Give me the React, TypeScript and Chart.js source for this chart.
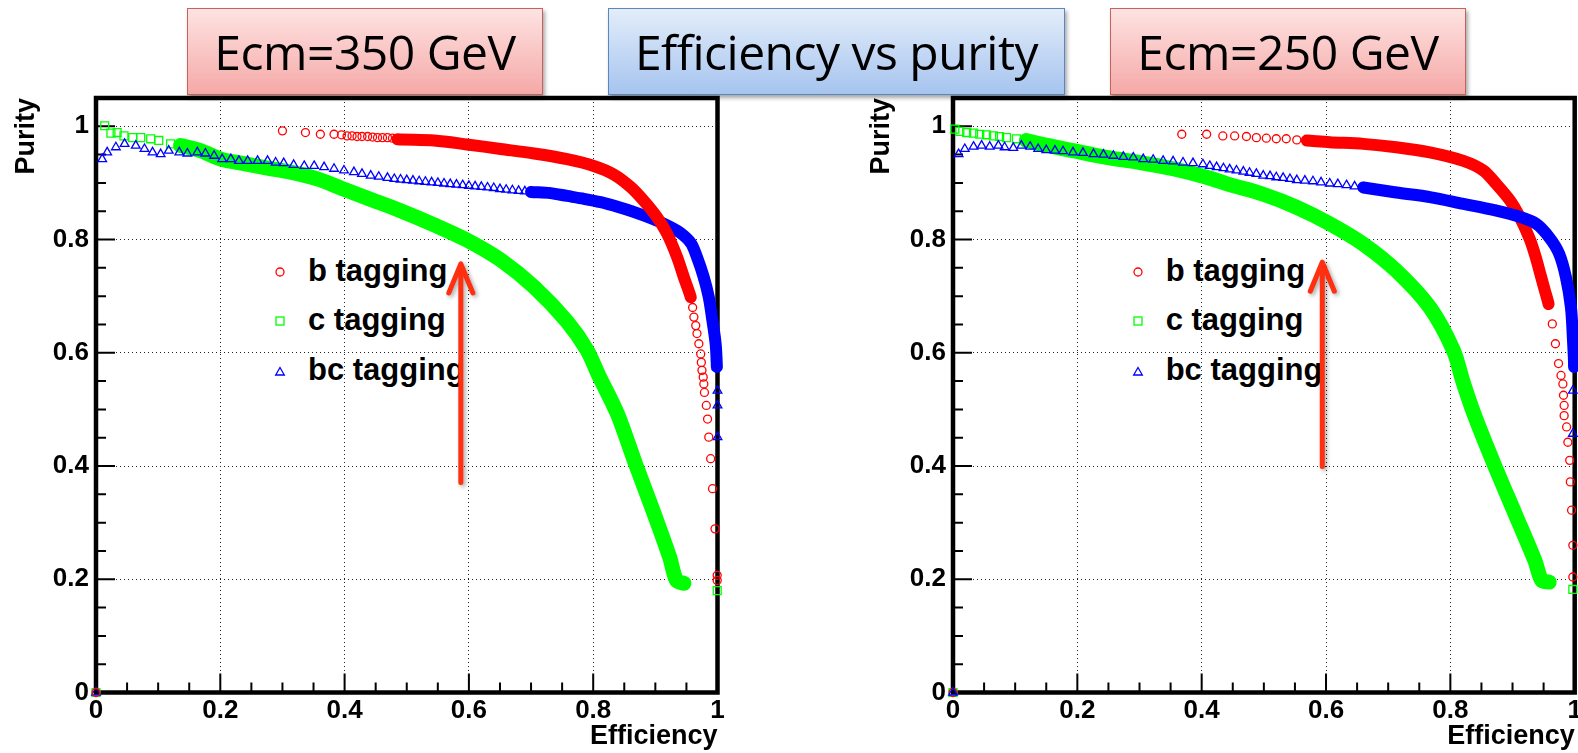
import React, { useEffect, useRef } from 'react';
import { Chart, registerables } from 'chart.js';

Chart.register(...registerables);

// ---------- axes ----------
const xTickValues = [0, 0.2, 0.4, 0.6, 0.8, 1];
const xTickLabels = ['0', '0.2', '0.4', '0.6', '0.8', '1'];
const yTickValues = [0, 0.2, 0.4, 0.6, 0.8, 1];
const yTickLabels = ['0', '0.2', '0.4', '0.6', '0.8', '1'];
const xMinorTicks = [0.05, 0.1, 0.15, 0.25, 0.3, 0.35, 0.45, 0.5, 0.55, 0.65, 0.7, 0.75, 0.85, 0.9, 0.95];
const yMinorTicks = [0.05, 0.1, 0.15, 0.25, 0.3, 0.35, 0.45, 0.5, 0.55, 0.65, 0.7, 0.75, 0.85, 0.9, 0.95];
const yMax = 1.05;

const headerTexts = ['Ecm=350 GeV', 'Efficiency vs purity', 'Ecm=250 GeV'];
const legendLabels = ['b tagging', 'c tagging', 'bc tagging'];
const xTitle = 'Efficiency';
const yTitle = 'Purity';

// ---------- Ecm = 350 GeV ----------
const b350Eff = [0, 0.300, 0.337, 0.361, 0.383, 0.395, 0.404, 0.412, 0.420, 0.428,
  0.437, 0.445, 0.453, 0.461, 0.469, 0.477, 0.485, 0.544, 0.597, 0.651,
  0.705, 0.758, 0.801, 0.833, 0.860, 0.881, 0.903, 0.919, 0.935, 0.946,
  0.957, 0.960, 0.962, 0.965, 0.967, 0.970, 0.973, 0.974, 0.975, 0.977,
  0.978, 0.979, 0.982, 0.984, 0.986, 0.989, 0.992, 0.996, 0.9995, 0.9995];
const b350Pur = [0, 0.992, 0.989, 0.986, 0.986, 0.985, 0.983, 0.983, 0.982, 0.982,
  0.982, 0.981, 0.980, 0.980, 0.980, 0.979, 0.977, 0.975, 0.968, 0.960,
  0.952, 0.942, 0.930, 0.915, 0.893, 0.869, 0.839, 0.810, 0.769, 0.733,
  0.698, 0.680, 0.663, 0.648, 0.634, 0.616, 0.598, 0.583, 0.569, 0.557,
  0.545, 0.530, 0.507, 0.483, 0.451, 0.413, 0.360, 0.289, 0.207, 0.198];

const c350Eff = [0, 0.014, 0.024, 0.034, 0.045, 0.059, 0.072, 0.088, 0.101, 0.120,
  0.136, 0.168, 0.201, 0.238, 0.276, 0.313, 0.356, 0.399, 0.437, 0.490,
  0.544, 0.597, 0.651, 0.705, 0.758, 0.790, 0.809, 0.839, 0.868, 0.898,
  0.923, 0.934, 0.946, 0.9995];
const c350Pur = [0, 1.001, 0.988, 0.989, 0.983, 0.980, 0.980, 0.978, 0.975, 0.969,
  0.966, 0.957, 0.942, 0.934, 0.926, 0.919, 0.907, 0.889, 0.873, 0.851,
  0.826, 0.799, 0.764, 0.716, 0.655, 0.605, 0.560, 0.492, 0.404, 0.316,
  0.239, 0.198, 0.193, 0.180];

const bc350Eff = [0, 0.010, 0.018, 0.032, 0.046, 0.064, 0.078, 0.091, 0.104, 0.117,
  0.134, 0.147, 0.163, 0.176, 0.190, 0.203, 0.217, 0.230, 0.244, 0.260,
  0.276, 0.289, 0.302, 0.318, 0.335, 0.351, 0.367, 0.383, 0.399, 0.415,
  0.428, 0.442, 0.455, 0.469, 0.480, 0.490, 0.500, 0.510, 0.520, 0.530,
  0.540, 0.550, 0.560, 0.570, 0.580, 0.590, 0.600, 0.610, 0.620, 0.630,
  0.640, 0.650, 0.660, 0.670, 0.680, 0.690, 0.700, 0.731, 0.758, 0.785,
  0.812, 0.839, 0.865, 0.892, 0.919, 0.940, 0.957, 0.967, 0.978, 0.986,
  0.991, 0.997, 0.999, 1.0, 1.0, 1.0];
const bc350Pur = [0, 0.942, 0.954, 0.963, 0.969, 0.966, 0.960, 0.954, 0.951, 0.957,
  0.954, 0.952, 0.954, 0.952, 0.948, 0.942, 0.942, 0.939, 0.939, 0.939,
  0.939, 0.936, 0.935, 0.932, 0.930, 0.930, 0.928, 0.925, 0.922, 0.919,
  0.916, 0.913, 0.911, 0.909, 0.907, 0.906, 0.905, 0.904, 0.903, 0.902,
  0.901, 0.900, 0.899, 0.898, 0.897, 0.896, 0.895, 0.894, 0.893, 0.892,
  0.891, 0.889, 0.888, 0.887, 0.886, 0.885, 0.884, 0.882, 0.877, 0.872,
  0.866, 0.858, 0.849, 0.838, 0.825, 0.812, 0.794, 0.769, 0.733, 0.698,
  0.663, 0.616, 0.575, 0.533, 0.507, 0.451];

// ---------- Ecm = 250 GeV ----------
const b250Eff = [0, 0.368, 0.408, 0.434, 0.453, 0.472, 0.488, 0.504, 0.520, 0.536,
  0.553, 0.569, 0.606, 0.660, 0.713, 0.767, 0.821, 0.853, 0.874, 0.896,
  0.912, 0.928, 0.937, 0.945, 0.952, 0.958, 0.964, 0.969, 0.974, 0.978,
  0.981, 0.982, 0.983, 0.983, 0.987, 0.989, 0.992, 0.993, 0.995, 0.997, 0.997];
const b250Pur = [0, 0.986, 0.986, 0.983, 0.983, 0.982, 0.980, 0.979, 0.978, 0.978,
  0.976, 0.975, 0.972, 0.969, 0.963, 0.954, 0.939, 0.922, 0.898, 0.869,
  0.839, 0.800, 0.770, 0.738, 0.710, 0.686, 0.651, 0.616, 0.581, 0.560,
  0.545, 0.525, 0.507, 0.489, 0.469, 0.442, 0.410, 0.372, 0.322, 0.260, 0.204];

const c250Eff = [0, 0.003, 0.011, 0.022, 0.033, 0.043, 0.054, 0.065, 0.075, 0.086,
  0.102, 0.118, 0.140, 0.193, 0.247, 0.301, 0.354, 0.408, 0.445, 0.499,
  0.553, 0.606, 0.660, 0.713, 0.767, 0.805, 0.820, 0.838, 0.870, 0.904,
  0.936, 0.947, 0.959, 0.997];
const c250Pur = [0, 0.995, 0.991, 0.989, 0.988, 0.986, 0.985, 0.983, 0.982, 0.980,
  0.978, 0.975, 0.969, 0.957, 0.945, 0.936, 0.925, 0.910, 0.897, 0.880,
  0.857, 0.828, 0.792, 0.745, 0.680, 0.604, 0.550, 0.492, 0.404, 0.316,
  0.233, 0.198, 0.195, 0.182];

const bc250Eff = [0, 0.009, 0.019, 0.033, 0.046, 0.059, 0.073, 0.083, 0.097, 0.110,
  0.124, 0.137, 0.150, 0.164, 0.177, 0.193, 0.209, 0.226, 0.242, 0.258,
  0.274, 0.290, 0.306, 0.322, 0.338, 0.354, 0.370, 0.386, 0.402, 0.413,
  0.424, 0.435, 0.445, 0.456, 0.467, 0.477, 0.488, 0.499, 0.510, 0.520,
  0.531, 0.542, 0.553, 0.566, 0.579, 0.592, 0.606, 0.619, 0.633, 0.646,
  0.660, 0.713, 0.767, 0.821, 0.874, 0.906, 0.938, 0.959, 0.975, 0.986,
  0.994, 0.997, 0.999, 0.997, 0.997];
const bc250Pur = [0, 0.951, 0.960, 0.964, 0.966, 0.964, 0.966, 0.963, 0.962, 0.966,
  0.964, 0.960, 0.958, 0.957, 0.956, 0.954, 0.953, 0.951, 0.950, 0.948,
  0.946, 0.945, 0.942, 0.941, 0.939, 0.938, 0.936, 0.935, 0.933, 0.930,
  0.928, 0.926, 0.924, 0.922, 0.920, 0.918, 0.916, 0.913, 0.912, 0.910,
  0.909, 0.907, 0.905, 0.904, 0.903, 0.901, 0.899, 0.898, 0.896, 0.894,
  0.892, 0.883, 0.875, 0.863, 0.851, 0.842, 0.828, 0.804, 0.775, 0.733,
  0.680, 0.627, 0.575, 0.533, 0.457];

// where markers merge into a solid band: [min efficiency, min purity]
const b350Band = [0.485, 0.698];
const c350Band = [0.136, 0.19];
const bc350Band = [0.70, 0.575];
const b250Band = [0.569, 0.686];
const c250Band = [0.118, 0.19];
const bc250Band = [0.66, 0.575];

// annotation arrows: [efficiency, tail purity, tip purity]
const arrow350 = [0.587, 0.371, 0.757];
const arrow250 = [0.594, 0.399, 0.760];

// ---------- styles ----------
const ROOT_FONT = '"Liberation Sans", Arial, Helvetica, sans-serif';
const RED = '#ff0000';
const GREEN = '#00ff00';
const BLUE = '#0000ff';

function makeSeries(label: string, eff: number[], pur: number[], color: string, style: string,
  radius: number, band: number[], bandWidth: number, order: number) {
  return {
    label,
    data: eff.map((v, i) => ({ x: v, y: pur[i] })),
    showLine: true,
    borderColor: color,
    borderWidth: bandWidth,
    tension: 0.3,
    borderJoinStyle: 'round',
    borderCapStyle: 'round',
    segment: {
      borderColor: (ctx: any) => {
        const i0 = ctx.p0DataIndex;
        const i1 = ctx.p1DataIndex;
        const ok = eff[i0] >= band[0] && eff[i1] >= band[0] && pur[i0] >= band[1] && pur[i1] >= band[1];
        return ok ? color : 'rgba(0,0,0,0)';
      },
    },
    pointStyle: style,
    pointRadius: radius,
    pointHoverRadius: radius,
    pointBorderWidth: 1.3,
    pointBorderColor: color,
    pointBackgroundColor: 'rgba(0,0,0,0)',
    clip: false,
    order,
  };
}

const rootFramePlugin = {
  id: 'rootFrame',
  beforeDatasetsDraw(chart: any) {
    const { ctx, chartArea: a, scales } = chart;
    const x = scales.x;
    const y = scales.y;
    ctx.save();
    ctx.strokeStyle = '#000';
    ctx.lineWidth = 2;
    ctx.beginPath();
    xTickValues.forEach((v) => { const p = x.getPixelForValue(v); ctx.moveTo(p, a.bottom); ctx.lineTo(p, a.bottom - 19); });
    xMinorTicks.forEach((v) => { const p = x.getPixelForValue(v); ctx.moveTo(p, a.bottom); ctx.lineTo(p, a.bottom - 10); });
    yTickValues.forEach((v) => { const p = y.getPixelForValue(v); ctx.moveTo(a.left, p); ctx.lineTo(a.left + 19, p); });
    yMinorTicks.forEach((v) => { const p = y.getPixelForValue(v); ctx.moveTo(a.left, p); ctx.lineTo(a.left + 10, p); });
    ctx.stroke();
    ctx.lineWidth = 4.5;
    ctx.strokeRect(a.left, a.top, a.right - a.left, a.bottom - a.top);
    ctx.restore();
  },
  afterDatasetsDraw(chart: any, _args: any, opts: any) {
    const arrow = opts && opts.arrow;
    if (!arrow) return;
    const { ctx, scales } = chart;
    const px = scales.x.getPixelForValue(arrow[0]);
    const py0 = scales.y.getPixelForValue(arrow[1]);
    const py1 = scales.y.getPixelForValue(arrow[2]);
    ctx.save();
    ctx.shadowColor = 'rgba(0,0,0,0.35)';
    ctx.shadowBlur = 4;
    ctx.shadowOffsetX = 2;
    ctx.shadowOffsetY = 2;
    ctx.strokeStyle = '#ff2f10';
    ctx.lineWidth = 5;
    ctx.lineCap = 'round';
    ctx.lineJoin = 'round';
    ctx.beginPath();
    ctx.moveTo(px, py0);
    ctx.lineTo(px, py1);
    ctx.moveTo(px - 12, py1 + 29);
    ctx.lineTo(px, py1);
    ctx.lineTo(px + 12, py1 + 29);
    ctx.stroke();
    ctx.restore();
  },
};

type PanelProps = {
  left: number;
  width: number;
  yAxisWidth: number;
  rightPad: number;
  yTitlePad: number;
  datasets: any[];
  arrow: number[];
};

function Panel({ left, width, yAxisWidth, rightPad, yTitlePad, datasets, arrow }: PanelProps) {
  const ref = useRef<HTMLCanvasElement>(null);
  useEffect(() => {
    if (!ref.current) return;
    const tickFont = { family: ROOT_FONT, size: 26, weight: 'bold' as const };
    const titleFont = { family: ROOT_FONT, size: 27, weight: 'bold' as const };
    const chart = new Chart(ref.current, {
      type: 'scatter',
      data: { datasets },
      plugins: [rootFramePlugin],
      options: {
        animation: false,
        responsive: false,
        devicePixelRatio: 1,
        events: [],
        layout: { padding: { top: 98, right: rightPad, bottom: 0, left: 0 } },
        plugins: {
          legend: { display: false },
          tooltip: { enabled: false },
          rootFrame: { arrow },
        } as any,
        scales: {
          x: {
            type: 'linear',
            position: 'bottom',
            min: 0,
            max: 1,
            afterBuildTicks: (s: any) => { s.ticks = xTickValues.map((v) => ({ value: v })); },
            afterFit: (s: any) => { s.height = 60.5; },
            ticks: {
              callback: (v: any) => xTickLabels[xTickValues.indexOf(v)] ?? '',
              font: tickFont,
              color: '#000',
              padding: 3,
              maxRotation: 0,
              autoSkip: false,
            },
            grid: { color: '#222', lineWidth: 1, drawTicks: false },
            border: { display: false, dash: [1, 3] },
            title: { display: true, text: xTitle, align: 'end', color: '#000', font: titleFont, padding: { top: 0, bottom: 0 } },
          },
          y: {
            type: 'linear',
            position: 'left',
            min: 0,
            max: yMax,
            afterBuildTicks: (s: any) => { s.ticks = yTickValues.map((v) => ({ value: v })); },
            afterFit: (s: any) => { s.width = yAxisWidth; },
            ticks: {
              callback: (v: any) => yTickLabels[yTickValues.indexOf(v)] ?? '',
              font: tickFont,
              color: '#000',
              padding: 7,
              autoSkip: false,
            },
            grid: { color: '#222', lineWidth: 1, drawTicks: false },
            border: { display: false, dash: [1, 3] },
            title: { display: true, text: yTitle, align: 'end', color: '#000', font: titleFont, padding: { top: yTitlePad, bottom: 0 } },
          },
        } as any,
      },
    } as any);
    return () => chart.destroy();
  }, []);
  return (
    <canvas
      ref={ref}
      width={width}
      height={753}
      style={{ position: 'absolute', left, top: 0, width, height: 753, zIndex: 1 }}
    />
  );
}

function MarkerIcon({ kind, color }: { kind: string; color: string }) {
  return (
    <svg width={14} height={14} viewBox="0 0 14 14" style={{ display: 'block' }}>
      {kind === 'circle' && <circle cx={7} cy={7} r={4} fill="none" stroke={color} strokeWidth={1.3} />}
      {kind === 'rect' && <rect x={3} y={3} width={8} height={8} fill="none" stroke={color} strokeWidth={1.3} />}
      {kind === 'triangle' && <polygon points="7,2.5 11.3,10 2.7,10" fill="none" stroke={color} strokeWidth={1.3} />}
    </svg>
  );
}

function Legend({ left }: { left: number }) {
  const kinds = ['circle', 'rect', 'triangle'];
  const colors = [RED, GREEN, BLUE];
  const rowTops = [253, 301.5, 351.5];
  const markerY = [271.7, 321, 371.5];
  return (
    <>
      {legendLabels.map((label, i) => (
        <React.Fragment key={label}>
          <div style={{ position: 'absolute', left: left - 7, top: markerY[i] - 7, zIndex: 0 }}>
            <MarkerIcon kind={kinds[i]} color={colors[i]} />
          </div>
          <div
            style={{
              position: 'absolute',
              left: left + 28,
              top: rowTops[i],
              fontFamily: ROOT_FONT,
              fontWeight: 'bold',
              fontSize: 31,
              lineHeight: '36px',
              color: '#000',
              whiteSpace: 'nowrap',
              zIndex: 0,
            }}
          >
            {label}
          </div>
        </React.Fragment>
      ))}
    </>
  );
}

const pinkBox = {
  background: 'linear-gradient(#fde3e2, #f5a9a7)',
  border: '1px solid #c8605c',
};
const blueBox = {
  background: 'linear-gradient(#e3edfa, #a6c4ef)',
  border: '1px solid #5b87c1',
};

function Header({ text, left, width, look }: { text: string; left: number; width: number; look: any }) {
  return (
    <div
      style={{
        position: 'absolute',
        left,
        top: 8,
        width,
        height: 87,
        boxSizing: 'border-box',
        ...look,
        boxShadow: '2px 3px 4px rgba(0,0,0,0.35)',
        display: 'flex',
        alignItems: 'center',
        justifyContent: 'center',
        fontFamily: '"Open Sans", "Noto Sans", sans-serif',
        fontSize: 48,
        letterSpacing: '-0.5px',
        color: '#000',
        whiteSpace: 'nowrap',
        zIndex: 2,
      }}
    >
      {text}
    </div>
  );
}

export default function App() {
  const left350 = [
    makeSeries(legendLabels[0], b350Eff, b350Pur, RED, 'circle', 4, b350Band, 12, 0),
    makeSeries(legendLabels[2], bc350Eff, bc350Pur, BLUE, 'triangle', 5, bc350Band, 12, 1),
    makeSeries(legendLabels[1], c350Eff, c350Pur, GREEN, 'rect', 5.6, c350Band, 15, 2),
  ];
  const right250 = [
    makeSeries(legendLabels[2], bc250Eff, bc250Pur, BLUE, 'triangle', 5, bc250Band, 12, 0),
    makeSeries(legendLabels[0], b250Eff, b250Pur, RED, 'circle', 4, b250Band, 12, 1),
    makeSeries(legendLabels[1], c250Eff, c250Pur, GREEN, 'rect', 5.6, c250Band, 15, 2),
  ];
  return (
    <div
      style={{
        position: 'fixed',
        left: 0,
        top: 0,
        width: 1578,
        height: 753,
        overflow: 'hidden',
        background: '#fff',
      }}
    >
      <Legend left={280} />
      <Legend left={1137.7} />
      <Panel left={0} width={760} yAxisWidth={96} rightPad={42.5} yTitlePad={10} datasets={left350} arrow={arrow350} />
      <Panel left={800} width={800} yAxisWidth={153} rightPad={25.3} yTitlePad={65} datasets={right250} arrow={arrow250} />
      <Header text={headerTexts[0]} left={187} width={356} look={pinkBox} />
      <Header text={headerTexts[1]} left={608} width={457} look={blueBox} />
      <Header text={headerTexts[2]} left={1110} width={356} look={pinkBox} />
    </div>
  );
}
